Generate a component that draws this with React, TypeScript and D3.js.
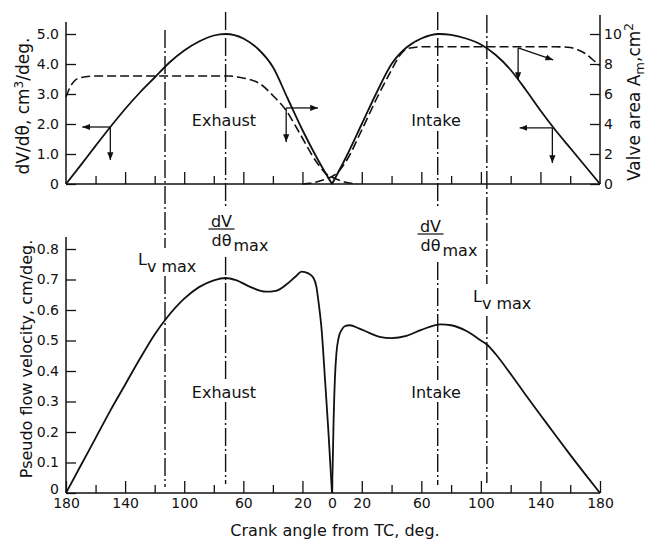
import React, { useRef, useEffect } from "react";
import * as d3 from "d3";

// crank angle from TC, signed: exhaust side negative, intake side positive
const dvDeg = [0, 10, 20, 30, 40, 50, 60, 72, 80, 90, 100, 110, 120, 130, 140, 150, 160, 170, 180];
const dvExhaust = [0, 0.85, 1.8, 2.85, 3.9, 4.5, 4.85, 5.0, 4.95, 4.75, 4.45, 4.05, 3.55, 3.05, 2.5, 1.9, 1.27, 0.63, 0];
const dvIntake = [0, 0.95, 2.0, 3.05, 4.0, 4.55, 4.85, 5.0, 4.97, 4.85, 4.65, 4.3, 3.8, 3.15, 2.45, 1.8, 1.2, 0.6, 0];

// valve area, cm2 (right axis)
const exAreaDeg = [-180, -177, -174, -170, -160, -140, -100, -70, -62, -55, -49, -40, -31, -22, -10, -3, 0, 5, 10, 17];
const exArea = [5.8, 6.5, 6.9, 7.1, 7.2, 7.2, 7.2, 7.2, 7.1, 6.95, 6.7, 5.9, 4.9, 3.4, 1.4, 0.6, 0.45, 0.25, 0.1, 0];
const inAreaDeg = [-20, -15, -10, -5, 0, 5, 10, 20, 30, 40, 45, 50, 55, 60, 100, 150, 160, 165, 170, 175, 180];
const inArea = [0, 0.05, 0.15, 0.3, 0.5, 0.9, 1.6, 3.6, 5.7, 7.6, 8.5, 9.0, 9.1, 9.15, 9.15, 9.15, 9.1, 8.95, 8.7, 8.3, 7.9];

// pseudo flow velocity, cm/deg
const velExDeg = [-180, -170, -160, -150, -140, -130, -120, -112, -100, -90, -80, -72, -65, -55, -45, -38, -30, -25, -20.5, -16, -12.5, -10.5, -9.3, -7, -4.7, -2.5, 0];
const velEx = [0, 0.09, 0.18, 0.27, 0.355, 0.44, 0.52, 0.573, 0.637, 0.675, 0.697, 0.705, 0.698, 0.675, 0.66, 0.663, 0.687, 0.708, 0.726, 0.72, 0.705, 0.675, 0.633, 0.534, 0.37, 0.207, 0];
const velInDeg = [0, 0.5, 1, 2, 3, 4.5, 6.5, 9, 12, 18, 25, 32, 40, 50, 60, 73, 80, 90, 100, 104, 110, 120, 130, 140, 150, 160, 170, 180];
const velIn = [0, 0.1, 0.22, 0.38, 0.46, 0.51, 0.535, 0.548, 0.55, 0.54, 0.525, 0.512, 0.508, 0.515, 0.535, 0.553, 0.55, 0.532, 0.5, 0.487, 0.455, 0.39, 0.322, 0.256, 0.19, 0.125, 0.062, 0];

const dvTicks = [0, 1, 2, 3, 4, 5];
const areaTicks = [0, 2, 4, 6, 8, 10];
const velTicks = [0, 0.1, 0.2, 0.3, 0.4, 0.5, 0.6, 0.7, 0.8];
const majorDeg = [-180, -140, -100, -60, -20, 0, 20, 60, 100, 140, 180];
const minorDeg = [-160, -120, -80, -40, 40, 80, 120, 160];
const topMajorDeg = [-140, -100, -60, -20, 20, 60, 100, 140];

const FONT = "DejaVu Sans";
const INK = "#111";

const x = d3.scaleLinear().domain([-180, 0, 180]).range([66, 332, 600]);
const yDv = d3.scaleLinear().domain([0, 5]).range([184, 34]);
const yArea = d3.scaleLinear().domain([0, 10]).range([184, 34]);
const yVel = d3.scaleLinear().domain([0, 0.8]).range([493, 249]);

const pts = (xs: number[], ys: number[], sign = 1) =>
  xs.map((d, i) => [sign * d, ys[i]] as [number, number]).sort((a, b) => a[0] - b[0]);

// dash-dot reference lines with gaps left for the labels
const refLines = [
  { deg: -113, segs: [[30, 248], [276, 487]] },
  { deg: -72, segs: [[12, 110], [131, 206], [257, 381], [402, 484]] },
  { deg: 71, segs: [[12, 108], [131, 207], [262, 380], [402, 485]] },
  { deg: 104, segs: [[15, 284], [316, 483]] },
];

export default function App() {
  const gDvAxis = useRef<SVGGElement>(null);
  const gAreaAxis = useRef<SVGGElement>(null);
  const gVelAxis = useRef<SVGGElement>(null);
  const gTopMajor = useRef<SVGGElement>(null);
  const gTopMinor = useRef<SVGGElement>(null);
  const gBotMajor = useRef<SVGGElement>(null);
  const gBotMinor = useRef<SVGGElement>(null);

  useEffect(() => {
    const style = (ref: React.RefObject<SVGGElement | null>, axis: any) => {
      const g = d3.select(ref.current!);
      g.call(axis);
      g.attr("font-family", FONT).attr("font-size", 14);
      g.select(".domain").remove();
      g.selectAll("line").attr("stroke", INK).attr("stroke-width", 1.3);
      g.selectAll("text").attr("fill", INK);
      return g;
    };
    style(
      gDvAxis,
      d3.axisLeft(yDv).tickValues(dvTicks)
        .tickFormat((d: any) => (d === 0 ? "0" : d3.format(".1f")(d)))
        .tickSizeInner(-10).tickSizeOuter(0).tickPadding(7)
    );
    style(
      gAreaAxis,
      d3.axisRight(yArea).tickValues(areaTicks).tickFormat(d3.format("d") as any)
        .tickSizeInner(-10).tickSizeOuter(0).tickPadding(4)
    );
    const gv = style(
      gVelAxis,
      d3.axisLeft(yVel).tickValues(velTicks)
        .tickFormat((d: any) => (d === 0 ? "0" : d3.format(".1f")(d)))
        .tickSizeInner(-10).tickSizeOuter(0).tickPadding(7)
    );
    // lift the bottom "0" clear of the "180" below it
    gv.selectAll<SVGTextElement, number>("text").filter((d) => d === 0).attr("dy", "0.05em");
    style(gTopMajor, d3.axisBottom(x).tickValues(topMajorDeg).tickFormat(() => "").tickSizeInner(-12).tickSizeOuter(0));
    style(gTopMinor, d3.axisBottom(x).tickValues(minorDeg).tickFormat(() => "").tickSizeInner(-8).tickSizeOuter(0));
    style(
      gBotMajor,
      d3.axisBottom(x).tickValues(majorDeg).tickFormat((d: any) => String(Math.abs(d)))
        .tickSizeInner(-12).tickSizeOuter(0).tickPadding(5)
    );
    style(gBotMinor, d3.axisBottom(x).tickValues(minorDeg).tickFormat(() => "").tickSizeInner(-8).tickSizeOuter(0));
  }, []);

  const lineDv = d3.line<[number, number]>().x((d) => x(d[0])).y((d) => yDv(d[1])).curve(d3.curveMonotoneX);
  const lineArea = d3.line<[number, number]>().x((d) => x(d[0])).y((d) => yArea(d[1])).curve(d3.curveMonotoneX);
  const lineVel = d3.line<[number, number]>().x((d) => x(d[0])).y((d) => yVel(d[1])).curve(d3.curveMonotoneX);

  const txt = { fontFamily: FONT, fill: INK } as const;

  const dvLabel = (cx: number, yb: number) => (
    <g style={txt} fontSize={16}>
      <text x={cx} y={yb} textAnchor="middle">dV</text>
      <line x1={cx - 13} x2={cx + 13} y1={yb + 2} y2={yb + 2} stroke={INK} strokeWidth={1.2} />
      <text x={cx} y={yb + 19} textAnchor="middle">dθ</text>
      <text x={cx + 12} y={yb + 24}>max</text>
    </g>
  );
  const lvLabel = (lx: number, yb: number) => (
    <text x={lx} y={yb} style={txt} fontSize={16}>
      L<tspan dy={7}>v max</tspan>
    </text>
  );

  return (
    <svg width={646} height={542} style={{ position: "absolute", left: 0, top: 0, background: "#fff" }}>
      <defs>
        <marker id="arrow" viewBox="0 0 10 10" refX={10} refY={5} markerWidth={6} markerHeight={6} orient="auto">
          <path d="M0,1 L10,5 L0,9 z" fill={INK} />
        </marker>
      </defs>

      {/* frames */}
      <g stroke={INK} strokeWidth={1.5} fill="none">
        <line x1={66} x2={66} y1={yDv(0)} y2={22} />
        <line x1={600} x2={600} y1={yArea(0)} y2={15} />
        <line x1={66} x2={600} y1={yDv(0)} y2={yDv(0)} />
        <line x1={66} x2={66} y1={yVel(0)} y2={237} />
        <line x1={66} x2={600} y1={yVel(0)} y2={yVel(0)} />
      </g>

      <g ref={gDvAxis} transform="translate(66,0)" />
      <g ref={gAreaAxis} transform="translate(600,0)" />
      <g ref={gVelAxis} transform="translate(66,0)" />
      <g ref={gTopMajor} transform={`translate(0,${yDv(0)})`} />
      <g ref={gTopMinor} transform={`translate(0,${yDv(0)})`} />
      <g ref={gBotMajor} transform={`translate(0,${yVel(0)})`} />
      <g ref={gBotMinor} transform={`translate(0,${yVel(0)})`} />

      {/* reference lines */}
      <g stroke={INK} strokeWidth={1.4} strokeDasharray="18,3,2,3">
        {refLines.map((r) =>
          r.segs.map((s, i) => <line key={`${r.deg}-${i}`} x1={x(r.deg)} x2={x(r.deg)} y1={s[0]} y2={s[1]} />)
        )}
      </g>

      {/* top panel curves */}
      <g fill="none" stroke={INK}>
        <path d={lineDv(pts(dvDeg, dvExhaust, -1)) || ""} strokeWidth={1.8} />
        <path d={lineDv(pts(dvDeg, dvIntake, 1)) || ""} strokeWidth={1.8} />
        <path d={lineArea(pts(exAreaDeg, exArea)) || ""} strokeWidth={1.6} strokeDasharray="9,4" />
        <path d={lineArea(pts(inAreaDeg, inArea)) || ""} strokeWidth={1.6} strokeDasharray="9,4" />
      </g>

      {/* bottom panel curves */}
      <g fill="none" stroke={INK} strokeWidth={1.8}>
        <path d={lineVel(pts(velExDeg, velEx)) || ""} />
        <path d={lineVel(pts(velInDeg, velIn)) || ""} />
      </g>

      {/* axis-reading arrows */}
      <g stroke={INK} strokeWidth={1.3} markerEnd="url(#arrow)">
        <line x1={x(-150)} y1={yDv(1.9)} x2={x(-169)} y2={yDv(1.9)} />
        <line x1={x(-150)} y1={yDv(1.9)} x2={x(-150)} y2={yDv(0.8)} />
        <line x1={x(-31)} y1={yArea(5.07)} x2={x(-9.5)} y2={yArea(5.07)} />
        <line x1={x(-31)} y1={yArea(5.07)} x2={x(-31)} y2={yArea(2.8)} />
        <line x1={x(125)} y1={yArea(9.07)} x2={x(148.6)} y2={yArea(8.27)} />
        <line x1={x(125)} y1={yArea(9.07)} x2={x(125)} y2={yArea(6.93)} />
        <line x1={x(148)} y1={yDv(1.87)} x2={x(126)} y2={yDv(1.87)} />
        <line x1={x(148)} y1={yDv(1.87)} x2={x(148)} y2={yDv(0.7)} />
      </g>

      {/* region labels */}
      <g style={txt} fontSize={16}>
        <text x={224} y={126} textAnchor="middle">Exhaust</text>
        <text x={436} y={126} textAnchor="middle">Intake</text>
        <text x={224} y={398} textAnchor="middle">Exhaust</text>
        <text x={436} y={398} textAnchor="middle">Intake</text>
      </g>

      {dvLabel(221.5, 227)}
      {dvLabel(430.5, 232)}
      {lvLabel(138, 265)}
      {lvLabel(473, 302)}

      {/* axis titles */}
      <text transform="translate(29,106) rotate(-90)" textAnchor="middle" style={txt} fontSize={17}>
        dV/dθ, cm<tspan dy={-6} fontSize={12}>3</tspan><tspan dy={6}>/deg.</tspan>
      </text>
      <text transform="translate(640,102) rotate(-90)" textAnchor="middle" style={txt} fontSize={17}>
        Valve area A<tspan dy={4} fontSize={13}>m</tspan><tspan dy={-4}>,cm</tspan>
        <tspan dy={-7} fontSize={12}>2</tspan>
      </text>
      <text transform="translate(32,359) rotate(-90)" textAnchor="middle" style={txt} fontSize={16}>
        Pseudo flow velocity, cm/deg.
      </text>
      <text x={335} y={536} textAnchor="middle" style={txt} fontSize={16}>
        Crank angle from TC, deg.
      </text>
    </svg>
  );
}
